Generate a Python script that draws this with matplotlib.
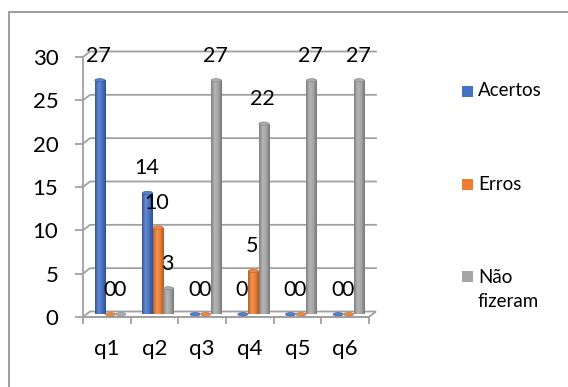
import matplotlib
matplotlib.use('Agg')
import matplotlib.pyplot as plt
import numpy as np
from matplotlib.colors import LinearSegmentedColormap, to_rgb
from matplotlib.patches import Ellipse, Rectangle, Polygon

categories = ['q1', 'q2', 'q3', 'q4', 'q5', 'q6']
acertos = [27, 14, 0, 0, 0, 0]
erros = [0, 10, 0, 5, 0, 0]
nao_fizeram = [0, 3, 27, 22, 27, 27]
series_names = ['Acertos', 'Erros', 'Não\nfizeram']
series_colors = ['#4472C4', '#ED7D31', '#A5A5A5']
y_ticks = [0, 5, 10, 15, 20, 25, 30]

W, H = 568, 387
AX_L, AX_R, AX_B, AX_T = 83, 369, 317, 57   # front plane box, px
DX, DY = 7, 5.5                              # depth of floor / back wall, px
GRID_C = '#a0a0a0'

plt.rcParams['font.family'] = ['Lato', 'DejaVu Sans']


def scale(c, f):
    r = np.array(to_rgb(c))
    if f < 1:
        return tuple(r * f)
    return tuple(r + (1 - r) * (f - 1))


def cylinder_cmap(c):
    return LinearSegmentedColormap.from_list(
        'cyl', [scale(c, 0.78), scale(c, 1.18), scale(c, 1.0), scale(c, 0.72)])


fig = plt.figure(figsize=(W / 100, H / 100), dpi=100)
fig.add_artist(Rectangle((9 / W, -0.1), 1.2, (H - 11.5) / H + 0.1, transform=fig.transFigure,
                         fill=False, ec='#8c8c8c', lw=1.2))

ax = fig.add_axes([AX_L / W, (H - AX_B) / H, (AX_R - AX_L) / W, (AX_B - AX_T) / H])
n = len(categories)
ymax = y_ticks[-1]
ux = (AX_R - AX_L) / n
uy = (AX_B - AX_T) / ymax
ddx, ddy = DX / ux, DY / uy

# floor slab and back-wall gridlines
ax.add_patch(Polygon([(0, 0), (n, 0), (n + ddx, ddy), (ddx, ddy)], closed=True,
                     fc='white', ec=GRID_C, lw=1.3, zorder=1, clip_on=False))
for v in y_ticks[1:]:
    ax.plot([0, ddx, n + ddx], [v, v + ddy, v + ddy], color=GRID_C, lw=1.3,
            zorder=1, clip_on=False)

w = 0.22
for k, (vals, c) in enumerate(zip([acertos, erros, nao_fizeram], series_colors)):
    xs = np.arange(n) + 0.5 + (k - 1) * w + ddx / 2
    bars = ax.bar(xs, vals, width=w, bottom=ddy / 2, color=c, zorder=3)
    cmap = cylinder_cmap(c)
    for b, x, v in zip(bars, xs, vals):
        if v > 0:
            im = ax.imshow(np.linspace(0, 1, 32)[None, :], cmap=cmap, aspect='auto',
                           extent=[x - w / 2, x + w / 2, ddy / 2, ddy / 2 + v], zorder=3.1)
            im.set_clip_path(b)
        ax.add_patch(Ellipse((x, ddy / 2 + v), w * 0.95, 3.2 / uy, fc=scale(c, 1.1),
                             ec=scale(c, 0.85), lw=0.5, zorder=4, clip_on=False))
        ax.text(x - 1 / ux, v + 27.5 / uy, str(v), ha='center', va='center',
                fontsize=15.5, color='black', zorder=5)

ax.set_xlim(0, n)
ax.set_ylim(0, ymax)

for s in ['top', 'right']:
    ax.spines[s].set_visible(False)
for s in ['left', 'bottom']:
    ax.spines[s].set_color(GRID_C)
    ax.spines[s].set_linewidth(1.3)

ax.set_yticks(y_ticks)
ax.tick_params(axis='y', length=5.8, width=1.3, color=GRID_C, pad=12, labelsize=16)
ax.set_xticks(range(n + 1))
ax.set_xticklabels([])
ax.tick_params(axis='x', which='major', length=5, width=1.3, color=GRID_C)
ax.set_xticks(np.arange(n) + 0.5, minor=True)
ax.set_xticklabels(categories, minor=True)
ax.tick_params(axis='x', which='minor', length=0, pad=16, labelsize=16)

# legend
sq_y = [91, 184, 276]
txt_y = [91, 184, 289.5]
for name, c, sy, ty in zip(series_names, series_colors, sq_y, txt_y):
    fig.add_artist(Rectangle((462 / W, 1 - (sy + 5.5) / H), 11 / W, 11 / H,
                             transform=fig.transFigure, fc=c, ec='none'))
    fig.text(478 / W, 1 - ty / H, name, va='center', ha='left', fontsize=13.5,
             linespacing=1.45)

fig.savefig('out.png', dpi=100)
